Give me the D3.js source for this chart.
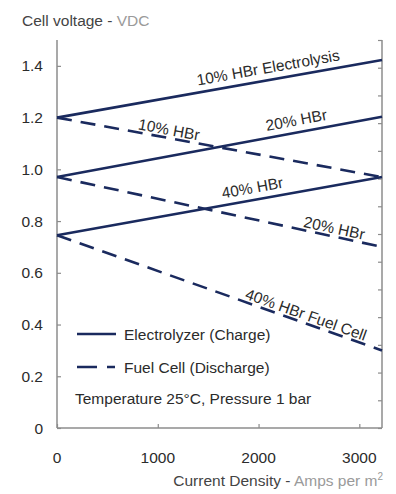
<!DOCTYPE html>
<html>
<head>
<meta charset="utf-8">
<script src="https://cdn.jsdelivr.net/npm/d3@7"></script>
<style>
  html, body { margin: 0; padding: 0; background: #fff; }
  svg { display: block; font-family: "Liberation Sans", Arial, sans-serif; }
</style>
</head>
<body>
<div id="chart"></div>
<script>
/** Data */
const xStart = 0;
const xEnd = 3225;
const xTicks = [0, 1000, 2000, 3000];
const yTicks = [0, 0.2, 0.4, 0.6, 0.8, 1.0, 1.2, 1.4];
const yTickLabels = ["0", "0.2", "0.4", "0.6", "0.8", "1.0", "1.2", "1.4"];

const seriesNames = ["10% HBr Electrolysis", "20% HBr", "40% HBr", "10% HBr", "20% HBr", "40% HBr Fuel Cell"];
const seriesKind = ["charge", "charge", "charge", "discharge", "discharge", "discharge"];
const startValues = [1.2, 0.97, 0.745, 1.2, 0.97, 0.745];
const endValues = [1.423, 1.203, 0.97, 0.97, 0.70, 0.30];
/** where each label starts along x (Amps per m2) */
const labelAt = [1410, 2095, 1658, 794, 2433, 1847];

const legendNames = ["Electrolyzer (Charge)", "Fuel Cell (Discharge)"];
const noteText = "Temperature 25°C, Pressure 1 bar";

/** Layout */
const width = 396;
const height = 494;
const lineColor = "#1a2a5e";
const axisColor = "#8c8c8c";
const textColor = "#2b2b2b";
const lightText = "#9a9a9a";
const fontSize = 15.5;

const x = d3.scaleLinear().domain([xStart, xEnd]).range([57, 382]);
const y = d3.scaleLinear().domain([0, 1.5]).range([428, 40]);

const svg = d3.select("#chart").append("svg")
  .attr("width", width)
  .attr("height", height);

/** Axes */
const bottomAxis = d3.axisBottom(x).tickValues(xTicks).tickSize(-4).tickFormat("");
const leftAxis = d3.axisLeft(y).tickValues(yTicks).tickSize(-4).tickFormat("");
const rightAxis = d3.axisRight(y).tickValues(d3.range(15).map(i => i * 1.5 / 14)).tickSize(-4).tickFormat("");

const styleAxis = g => {
  g.select(".domain").attr("stroke", axisColor).attr("stroke-width", 1.5);
  g.selectAll(".tick line").attr("stroke", axisColor).attr("stroke-width", 1.2);
};

svg.append("g").attr("transform", `translate(0,${y(0)})`).call(bottomAxis).call(styleAxis)
  .select(".domain").attr("d", `M${x(xStart)},0H${x(xEnd)}`);
svg.append("g").attr("transform", `translate(${x(xStart)},0)`).call(leftAxis).call(styleAxis)
  .select(".domain").attr("d", `M0,${y(1.5)}V${y(0)}`);
svg.append("g").attr("transform", `translate(${x(xEnd)},0)`).call(rightAxis).call(styleAxis)
  .select(".domain").attr("d", `M0,${y(1.5)}V${y(0)}`);

/** Tick labels */
svg.append("g").selectAll("text").data(yTicks).join("text")
  .attr("x", 43)
  .attr("y", d => y(d))
  .attr("dy", "0.36em")
  .attr("text-anchor", "end")
  .attr("font-size", fontSize)
  .attr("fill", textColor)
  .text((d, i) => yTickLabels[i]);

svg.append("g").selectAll("text").data(xTicks).join("text")
  .attr("x", d => x(d))
  .attr("y", 457)
  .attr("dy", "0.36em")
  .attr("text-anchor", "middle")
  .attr("font-size", fontSize)
  .attr("fill", textColor)
  .text(d => d);

/** Axis titles */
const yTitle = svg.append("text")
  .attr("x", 22).attr("y", 20).attr("dy", "0.36em")
  .attr("font-size", fontSize).attr("fill", "#444");
yTitle.append("tspan").text("Cell voltage - ");
yTitle.append("tspan").attr("fill", lightText).text("VDC");

const xTitle = svg.append("text")
  .attr("x", 383).attr("y", 480).attr("dy", "0.36em")
  .attr("text-anchor", "end")
  .attr("font-size", fontSize).attr("fill", "#444");
xTitle.append("tspan").text("Current Density - ");
xTitle.append("tspan").attr("fill", lightText).text("Amps per m");
xTitle.append("tspan").attr("fill", lightText).attr("font-size", 10).attr("dy", "-0.6em").text("2");

/** Lines */
const series = seriesNames.map((name, i) => ({
  name,
  kind: seriesKind[i],
  points: [[xStart, startValues[i]], [xEnd, endValues[i]]],
  labelX: labelAt[i]
}));

const line = d3.line().x(d => x(d[0])).y(d => y(d[1]));

svg.append("g").selectAll("path").data(series).join("path")
  .attr("d", d => line(d.points))
  .attr("fill", "none")
  .attr("stroke", lineColor)
  .attr("stroke-width", 2.6)
  .attr("stroke-dasharray", d => d.kind === "discharge" ? "15,9" : null);

/** Line labels rotated along their line */
svg.append("g").selectAll("text").data(series).join("text")
  .attr("transform", d => {
    const [p0, p1] = d.points;
    const angle = Math.atan2(y(p1[1]) - y(p0[1]), x(p1[0]) - x(p0[0])) * 180 / Math.PI;
    const v = p0[1] + (p1[1] - p0[1]) * (d.labelX - p0[0]) / (p1[0] - p0[0]);
    return `translate(${x(d.labelX)},${y(v)}) rotate(${angle})`;
  })
  .attr("dy", d => d.kind === "charge" ? -7 : -3)
  .attr("font-size", fontSize)
  .attr("fill", textColor)
  .text(d => d.name);

/** Legend */
const legend = svg.append("g");
legendNames.forEach((name, i) => {
  const ly = 334 + i * 33;
  legend.append("line")
    .attr("x1", 77).attr("x2", 116).attr("y1", ly).attr("y2", ly)
    .attr("stroke", lineColor).attr("stroke-width", 2.6)
    .attr("stroke-dasharray", i === 1 ? "20,10,8,100" : null);
  legend.append("text")
    .attr("x", 124).attr("y", ly).attr("dy", "0.36em")
    .attr("font-size", fontSize).attr("fill", textColor)
    .text(name);
});
legend.append("text")
  .attr("x", 75).attr("y", 398).attr("dy", "0.36em")
  .attr("font-size", fontSize).attr("fill", textColor)
  .text(noteText);
</script>
</body>
</html>
